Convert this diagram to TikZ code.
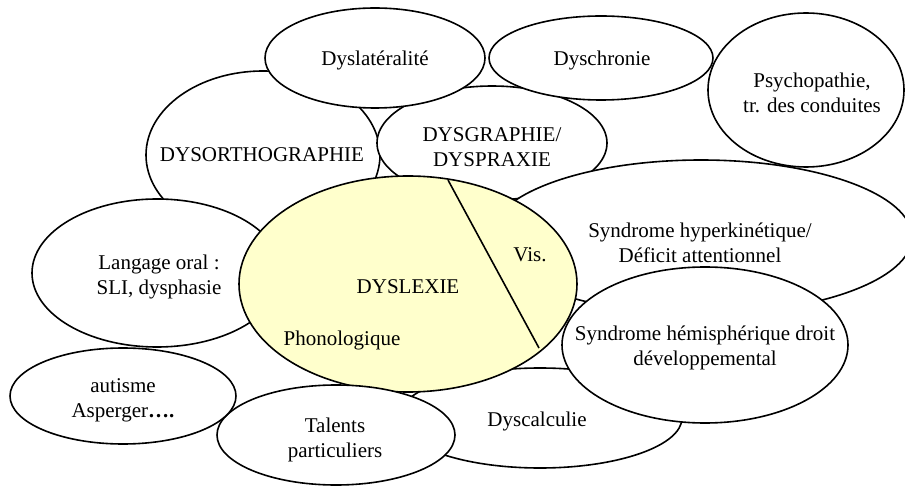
\documentclass[tikz,border=0pt]{standalone}
\usepackage{fontspec}
\setmainfont{Liberation Serif}
\usetikzlibrary{shapes.geometric}
\definecolor{dyslex}{HTML}{FFFFCC}
\tikzset{
  bubble/.style={ellipse, draw=black, line width=1.6pt, fill=white, inner sep=0pt},
  lbl/.style={align=center, inner sep=0pt, font=\fontsize{21}{25}\selectfont}
}
\begin{document}
\begin{tikzpicture}[x=1pt,y=-1pt]
\useasboundingbox (0,0) rectangle (905,486);
\clip (0,0) rectangle (905,486);
% back layer
\node[bubble, minimum width=234pt, minimum height=168pt] (ortho) at (263,155) {};
\node[lbl] (orthotxt) at (262,155) {DYSORTHOGRAPHIE};
\node[bubble, minimum width=230pt, minimum height=114pt] (graph) at (492,143) {};
\node[lbl] (graphtxt) at (492,147) {DYSGRAPHIE/\\DYSPRAXIE};
\node[bubble, minimum width=220pt, minimum height=100pt] (lat) at (375,58) {};
\node[lbl] (lattxt) at (375,60) {Dyslatéralité};
\node[bubble, minimum width=224pt, minimum height=84pt] (chron) at (601,58) {};
\node[lbl] (chrontxt) at (602,60) {Dyschronie};
\node[bubble, minimum width=422pt, minimum height=154pt] (hyper) at (701,237) {};
\node[lbl] (hypertxt) at (700,243) {Syndrome hyperkinétique/\\Déficit attentionnel};
\node[bubble, minimum width=196pt, minimum height=154pt] (psy) at (806,90) {};
\node[lbl] (psytxt) at (812,93) {Psychopathie,\\tr. des conduites};
\node[bubble, minimum width=250pt, minimum height=148pt] (lang) at (157,273) {};
\node[lbl] (langtxt) at (159,277) {Langage oral :\\SLI, dysphasie};
\node[bubble, minimum width=284pt, minimum height=100pt] (calc) at (540,418) {};
\node[lbl] (calctxt) at (537,421) {Dyscalculie};
% central
\node[bubble, fill=dyslex, minimum width=338pt, minimum height=216pt] (dys) at (408,284) {};
\draw[line width=1.6pt] (448,180) coordinate (vtop) -- (539,348) coordinate (vbot);
\node[lbl] (dystxt) at (408,287) {DYSLEXIE};
\node[lbl] (phon) at (342,340) {Phonologique};
\node[lbl] (vis) at (530,255) {Vis.};
% front layer
\node[bubble, minimum width=286pt, minimum height=156pt] (hemi) at (705,345) {};
\node[lbl] (hemitxt) at (705,348) {Syndrome hémisphérique droit\\développemental};
\node[bubble, minimum width=238pt, minimum height=100pt] (tal) at (336,435) {};
\node[lbl] (taltxt) at (335,440) {Talents\\particuliers};
\node[bubble, minimum width=226pt, minimum height=96pt] (aut) at (123,396) {};
\node[lbl] (auttxt) at (123,400) {autisme\\Asperger{\bfseries ….}};
\end{tikzpicture}
\end{document}
